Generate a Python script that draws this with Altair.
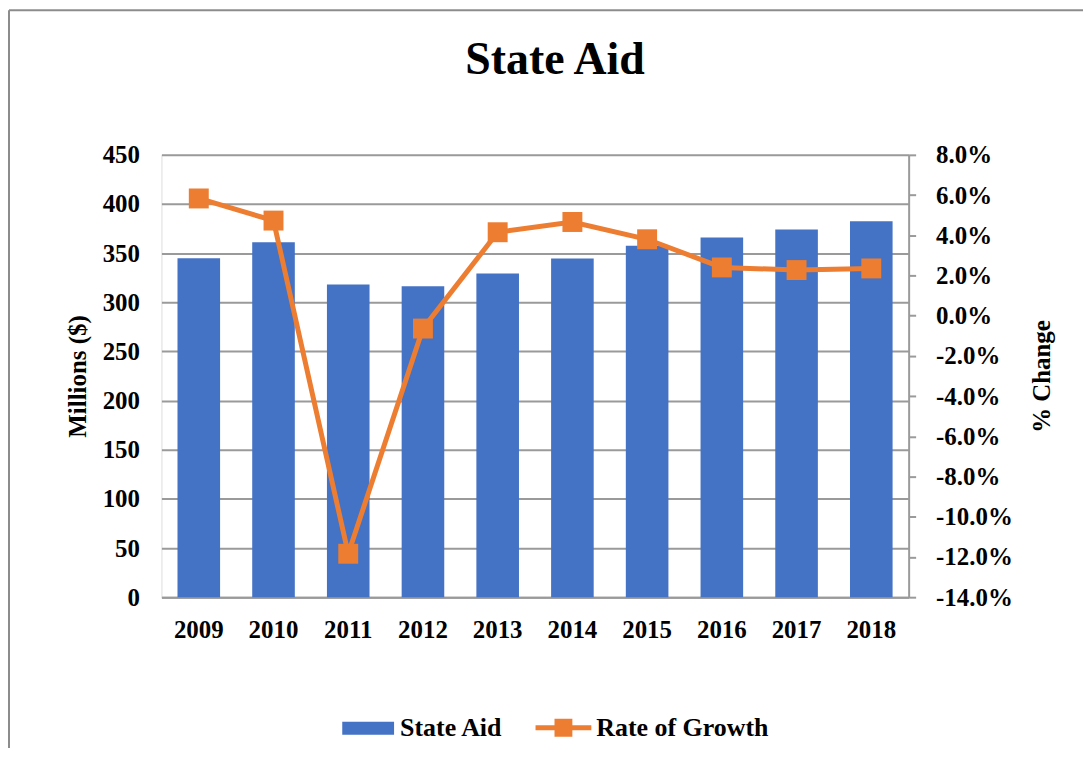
import altair as alt
import pandas as pd

# ---- data ----
years = ["2009", "2010", "2011", "2012", "2013", "2014", "2015", "2016", "2017", "2018"]
state_aid = [344.9, 361.1, 318.2, 316.2, 329.4, 344.6, 357.4, 365.9, 374.0, 382.4]
growth_pct = [5.83, 4.73, -11.84, -0.64, 4.15, 4.66, 3.80, 2.40, 2.27, 2.35]
series_names = ["State Aid", "Rate of Growth"]
left_ticks = [0, 50, 100, 150, 200, 250, 300, 350, 400, 450]
right_ticks = [-0.14, -0.12, -0.10, -0.08, -0.06, -0.04, -0.02, 0.0, 0.02, 0.04, 0.06, 0.08]

df = pd.DataFrame({
    "year": years,
    "aid": state_aid,
    "growth": [g / 100 for g in growth_pct],
    "aid_series": series_names[0],
    "growth_series": series_names[1],
})

FONT = "Liberation Serif"
BLUE = "#4472C4"
ORANGE = "#ED7D31"
GRID = "#9a9a9a"

RECT_PATH = "M-1,-0.25H1V0.25H-1Z"
LINE_SQ_PATH = "M-1,-0.09H1V0.09H-1Z M-0.32,-0.32H0.32V0.32H-0.32Z"

x = alt.X(
    "year:O", sort=years,
    scale=alt.Scale(paddingInner=0.43, paddingOuter=0.215),
    axis=alt.Axis(title=None, labelAngle=0, ticks=False, tickSize=0, labelPadding=20,
                  labelFont=FONT, labelFontSize=25, labelFontWeight="bold", labelColor="black",
                  domainColor=GRID, domainWidth=2),
)

bars = alt.Chart(df).mark_bar(color=BLUE).encode(
    x=x,
    y=alt.Y("aid:Q", scale=alt.Scale(domain=[0, 450], nice=False),
            axis=alt.Axis(values=left_ticks, title="Millions ($)", grid=True, gridColor=GRID,
                          gridWidth=2, domain=False, ticks=False, tickSize=0, labelPadding=22,
                          labelFont=FONT, labelFontSize=25, labelFontWeight="bold",
                          labelColor="black", titleFont=FONT, titleFontSize=25,
                          titleFontWeight="bold", titleColor="black", titleX=-84, titleY=222,
                          titleAngle=270, titleAlign="center", titleBaseline="middle")),
    color=alt.Color("aid_series:N",
                    scale=alt.Scale(domain=[series_names[0]], range=[BLUE]),
                    legend=alt.Legend(title=None, orient="none", legendX=181.5, legendY=549.5,
                                      symbolType=RECT_PATH, symbolSize=2704, symbolStrokeWidth=0,
                                      symbolOpacity=1, labelFont=FONT, labelFontSize=26,
                                      labelFontWeight="bold", labelColor="black", labelOffset=6,
                                      labelLimit=400, padding=0)),
)

y_right = alt.Y(
    "growth:Q", scale=alt.Scale(domain=[-0.14, 0.08], nice=False),
    axis=alt.Axis(orient="right", values=right_ticks,
                  labelExpr="(datum.value < 0 ? '-' : '') + format(abs(datum.value), '.1%')",
                  title="% Change", grid=False, domainColor=GRID, domainWidth=2,
                  tickColor=GRID, tickWidth=2, tickSize=7, labelPadding=20,
                  labelFont=FONT, labelFontSize=25, labelFontWeight="bold", labelColor="black",
                  titleFont=FONT, titleFontSize=25, titleFontWeight="bold", titleColor="black",
                  titleX=133, titleY=222, titleAngle=270, titleAlign="center",
                  titleBaseline="middle"),
)

line = alt.Chart(df).mark_line(color=ORANGE, strokeWidth=5).encode(x=x, y=y_right)

points = alt.Chart(df).mark_point(shape="square", size=400, filled=True, opacity=1,
                                  strokeWidth=0).encode(
    x=x, y=y_right,
    fill=alt.Fill("growth_series:N",
                  scale=alt.Scale(domain=[series_names[1]], range=[ORANGE]),
                  legend=alt.Legend(title=None, orient="none", legendX=375.5, legendY=547,
                                    symbolType=LINE_SQ_PATH, symbolSize=3136, symbolStrokeWidth=0,
                                    symbolOpacity=1, labelFont=FONT, labelFontSize=26,
                                    labelFontWeight="bold", labelColor="black", labelOffset=5,
                                    labelLimit=400, padding=0)),
)

frame_data = alt.Data(values=[{"k": 1}])
border_left = alt.Chart(frame_data).mark_rule(color="#8c8c8c", strokeWidth=2).encode(
    x=alt.value(-153), y=alt.value(-145), y2=alt.value(600))
border_top = alt.Chart(frame_data).mark_rule(color="#8c8c8c", strokeWidth=2).encode(
    x=alt.value(-153), x2=alt.value(930), y=alt.value(-145))

chart = alt.layer(
    border_left, border_top, bars, alt.layer(line, points)
).resolve_scale(y="independent").properties(
    width=750, height=444,
    autosize=alt.AutoSizeParams(type="none"),
    padding={"left": 154, "top": 146, "right": 175, "bottom": 150},
    title=alt.TitleParams("State Aid", font=FONT, fontSize=46, fontWeight="bold", color="black",
                          anchor="middle", frame="group", dx=20, dy=111, offset=0,
                          baseline="alphabetic"),
).configure_view(strokeWidth=0).configure(background="white")

chart.save("out.html", embed_options={"renderer": "svg", "actions": False})
